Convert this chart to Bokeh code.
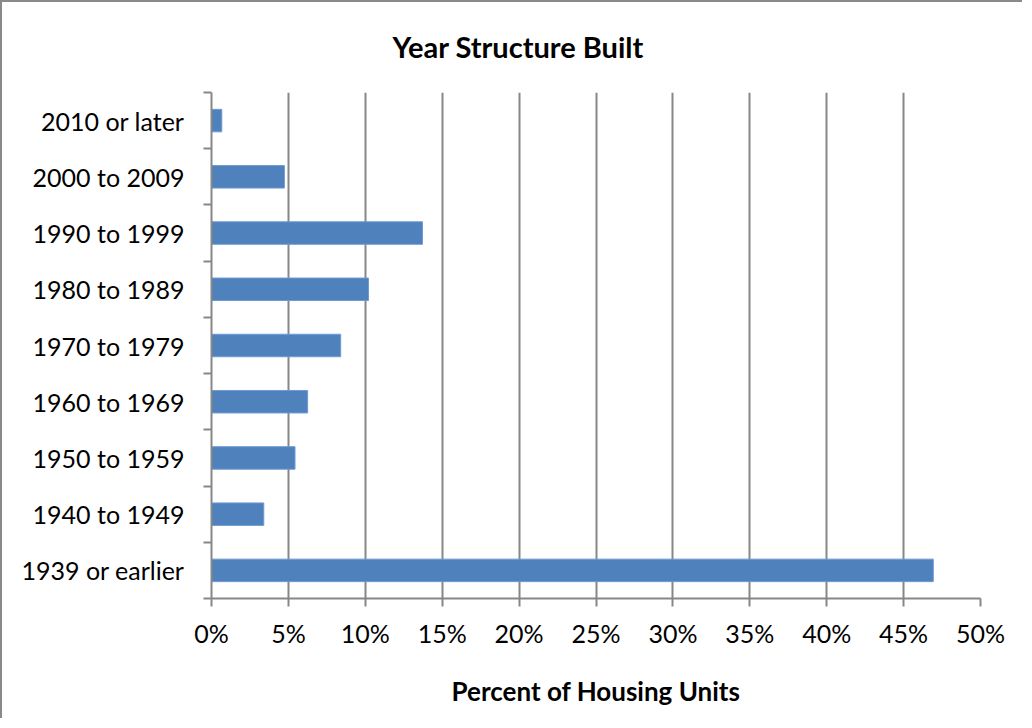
from bokeh.plotting import figure
from bokeh.models import Range1d, FixedTicker, Title
from bokeh.embed import file_html
from bokeh.resources import INLINE

# ---- data (top to bottom as shown) ----
categories = ["2010 or later", "2000 to 2009", "1990 to 1999", "1980 to 1989",
              "1970 to 1979", "1960 to 1969", "1950 to 1959", "1940 to 1949",
              "1939 or earlier"]
percent = [0.67, 4.74, 13.72, 10.21, 8.40, 6.25, 5.43, 3.40, 46.93]
x_ticks = [0, 5, 10, 15, 20, 25, 30, 35, 40, 45, 50]
x_tick_labels = ["0%", "5%", "10%", "15%", "20%", "25%", "30%", "35%", "40%", "45%", "50%"]
title_text = "Year Structure Built"
x_title = "Percent of Housing Units"

FONT = "Lato"
GRAY = "#878787"
BLUE = "#4F81BD"

n = len(categories)
ypos = [n - 1 - i + 0.5 for i in range(n)]
centers = [i + 0.5 for i in range(n)]
bounds = list(range(n + 1))

p = figure(width=1022, height=718, output_backend="svg", toolbar_location=None,
           x_range=Range1d(x_ticks[0], x_ticks[-1]), y_range=Range1d(0, n),
           min_border_left=209, min_border_right=44, min_border_top=90,
           min_border_bottom=122)
p.styles = {"border-left": "2px solid #898989", "border-top": "2px solid #898989"}
p.outline_line_color = None
p.background_fill_color = "white"
p.border_fill_color = "white"

p.hbar(y=ypos, right=percent, left=0, height=0.4, fill_color=BLUE,
       line_color="#6E9BD1", line_width=1)

# title
p.title = Title(text=title_text, align="left", offset=181, standoff=53,
                vertical_align="top",
                text_font=FONT, text_font_style="bold", text_font_size="29px",
                text_color="black")

# x axis
xa = p.xaxis[0]
xa.ticker = FixedTicker(ticks=x_ticks)
xa.major_label_overrides = {t: l for t, l in zip(x_ticks, x_tick_labels)}
xa.major_tick_out = 8
xa.major_tick_in = 0
xa.major_tick_line_color = GRAY
xa.major_tick_line_width = 2
xa.minor_tick_line_color = None
xa.axis_line_color = GRAY
xa.axis_line_width = 2
xa.major_label_text_font = FONT
xa.major_label_text_font_size = "25px"
xa.major_label_text_color = "black"
xa.major_label_standoff = 11
xa.axis_label = x_title
xa.axis_label_text_font = FONT
xa.axis_label_text_font_style = "bold"
xa.axis_label_text_font_size = "26px"
xa.axis_label_text_color = "black"
xa.axis_label_standoff = 24

# y axis: labels at category centres, ticks at category boundaries
ya = p.yaxis[0]
ya.ticker = FixedTicker(ticks=centers, minor_ticks=bounds)
ya.major_label_overrides = {c: categories[n - 1 - i] for i, c in enumerate(centers)}
ya.major_tick_out = 0
ya.major_tick_in = 0
ya.major_tick_line_color = None
ya.minor_tick_out = 8
ya.minor_tick_in = 0
ya.minor_tick_line_color = GRAY
ya.minor_tick_line_width = 2
ya.axis_line_color = GRAY
ya.axis_line_width = 2
ya.major_label_text_font = FONT
ya.major_label_text_font_size = "25px"
ya.major_label_text_color = "black"
ya.major_label_standoff = 19

p.xgrid.grid_line_color = GRAY
p.xgrid.grid_line_width = 2
p.ygrid.grid_line_color = None

open("out.html", "w").write(file_html(p, INLINE))
